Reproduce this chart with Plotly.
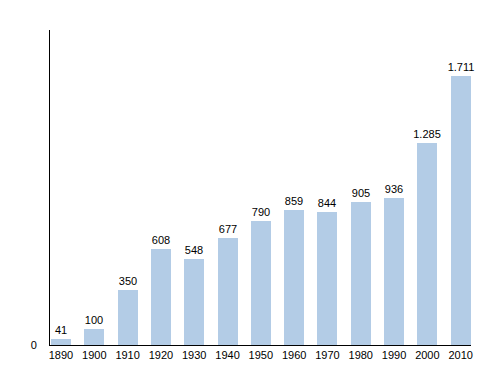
import plotly.graph_objects as go

years = [1890, 1900, 1910, 1920, 1930, 1940, 1950, 1960, 1970, 1980, 1990, 2000, 2010]
population = [41, 100, 350, 608, 548, 677, 790, 859, 844, 905, 936, 1285, 1711]
labels = ["41", "100", "350", "608", "548", "677", "790", "859", "844", "905", "936", "1.285", "1.711"]
year_labels = [str(y) for y in years]

fig = go.Figure(go.Bar(
    x=years, y=population, width=6,
    marker=dict(color="#b3cce6", line=dict(width=0)),
    text=labels, textposition="outside", cliponaxis=False, constraintext="none",
    textfont=dict(family="Liberation Sans, Arial, sans-serif", size=11, color="black"),
))

# page body has an 8px default margin, so the figure is sized/offset to compensate
fig.update_layout(
    width=492, height=367,
    margin=dict(l=42, r=29, t=22, b=30, autoexpand=False),
    paper_bgcolor="white", plot_bgcolor="white",
    showlegend=False,
    font=dict(family="Liberation Sans, Arial, sans-serif", size=11, color="black"),
    bargap=0,
)
fig.update_xaxes(
    range=[1886.7, 2013.1], tickvals=years, ticktext=year_labels,
    showline=True, linecolor="black", linewidth=1, automargin=False,
    showgrid=False, zeroline=False, ticks="", fixedrange=True,
)
fig.update_yaxes(
    range=[0, 2000], tickvals=[0], ticktext=["0"], automargin=False,
    showline=True, linecolor="black", linewidth=1,
    showgrid=False, zeroline=False, ticks="outside", ticklen=10, tickcolor="rgba(0,0,0,0)",
)

fig.write_html("out.html")
